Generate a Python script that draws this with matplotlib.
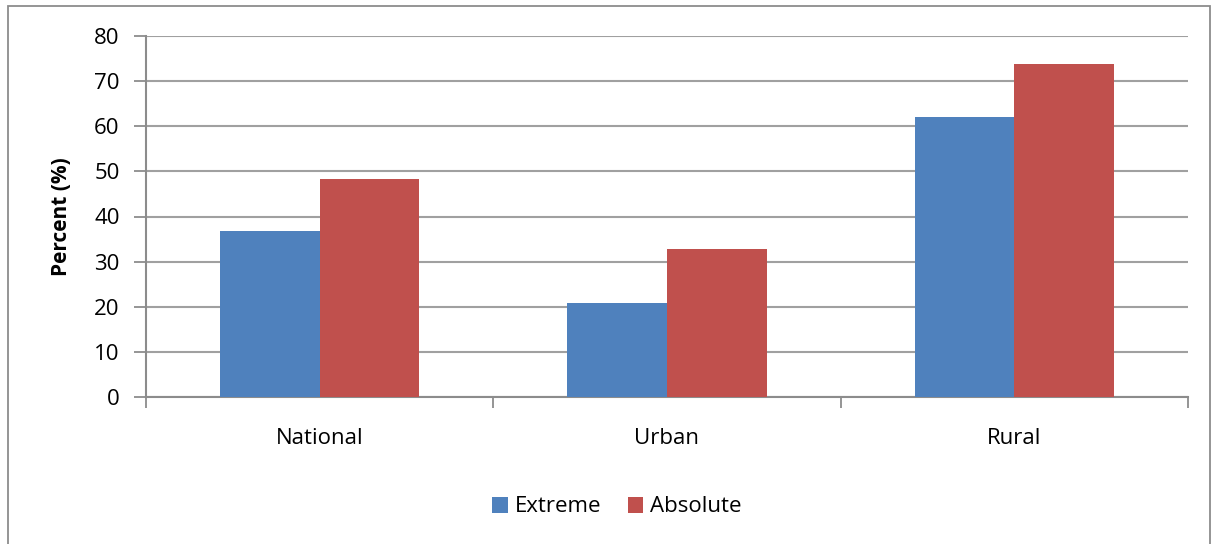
import matplotlib
matplotlib.use("Agg")
import matplotlib.pyplot as plt
from matplotlib.patches import Rectangle
import numpy as np

categories = ["National", "Urban", "Rural"]
extreme = [36.7, 20.9, 62.1]
absolute = [48.3, 32.7, 73.9]
series_names = ["Extreme", "Absolute"]
y_ticks = [0, 10, 20, 30, 40, 50, 60, 70, 80]

BLUE = "#4F81BD"
RED = "#C0504D"
GRID = "#A0A0A0"
AXIS = "#8C8C8C"
FS = 16

plt.rcParams["font.family"] = ["Open Sans", "DejaVu Sans"]

W, H = 1212, 544
fig = plt.figure(figsize=(W / 100, H / 100), dpi=100)
ax = fig.add_axes([146 / W, 1 - 397 / H, (1188 - 146) / W, (397 - 36) / H])

x = np.arange(len(categories))
bw = 0.287
b1 = ax.bar(x - bw / 2, extreme, width=bw, color=BLUE, label=series_names[0], zorder=3)
b2 = ax.bar(x + bw / 2, absolute, width=bw, color=RED, label=series_names[1], zorder=3)

ax.set_xlim(-0.5, len(categories) - 0.5)
ax.set_ylim(0, 80)
ax.set_yticks(y_ticks)
ax.set_yticklabels([str(v) for v in y_ticks], fontsize=FS)
ax.yaxis.grid(True, color=GRID, linewidth=1.5, zorder=0)
ax.set_axisbelow(True)

# category labels between boundary ticks
ax.set_xticks(x)
ax.set_xticklabels(categories, fontsize=FS)
ax.tick_params(axis="x", length=0, pad=22)
ax.set_xticks(np.arange(-0.5, len(categories), 1.0), minor=True)
ax.tick_params(axis="x", which="minor", length=8, width=1.3, color=AXIS)
ax.tick_params(axis="y", length=9, width=1.3, color=AXIS, pad=10)

for s in ["top", "right"]:
    ax.spines[s].set_visible(False)
for s in ["left", "bottom"]:
    ax.spines[s].set_color(AXIS)
    ax.spines[s].set_linewidth(1.5)

ax.set_ylabel("Percent (%)", fontsize=15, fontweight="bold", labelpad=16)

leg = fig.legend(handles=[b1, b2], labels=series_names, loc="center",
                 bbox_to_anchor=(617 / W, 1 - 507 / H), ncol=2, frameon=False,
                 fontsize=FS, handlelength=0.7, handleheight=0.7,
                 handletextpad=0.3, columnspacing=1.2)

# outer chart frame
fig.patches.append(Rectangle((8 / W, -0.02), (1210 - 8) / W, 1 - 6 / H + 0.02,
                             transform=fig.transFigure, fill=False,
                             edgecolor="#8C8C8C", linewidth=1.3))

fig.savefig("out.png", dpi=100)
